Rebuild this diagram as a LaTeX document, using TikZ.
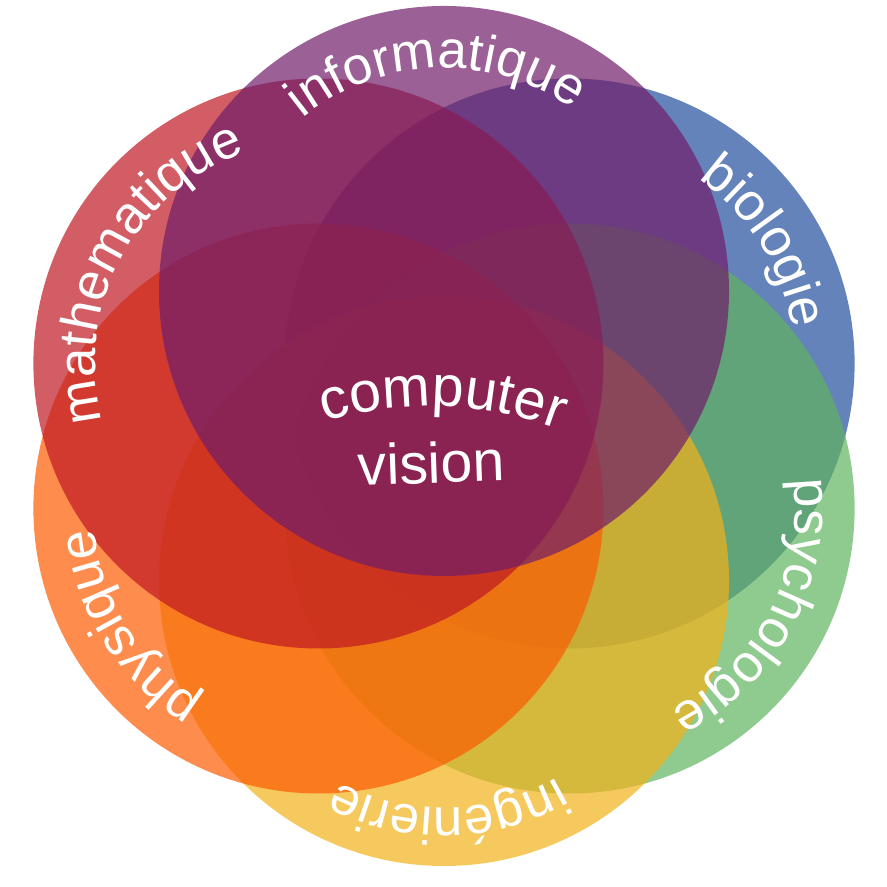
\documentclass[tikz,border=0pt]{standalone}
\usepackage{fontspec}
\setmainfont{Liberation Sans}
\usepackage{tikz}
\usetikzlibrary{decorations.text}

\definecolor{infcolor}{HTML}{701D69}
\definecolor{biocolor}{HTML}{224E9C}
\definecolor{psycolor}{HTML}{5FB35E}
\definecolor{ingcolor}{HTML}{F2B21A}
\definecolor{phycolor}{HTML}{FC5B02}
\definecolor{matcolor}{HTML}{C01824}

\newcommand{\venntext}{\fontsize{15pt}{18pt}\selectfont}
\newcommand{\cvtext}{\fontsize{16.3pt}{19pt}\selectfont}

\begin{document}
\begin{tikzpicture}[
        circle_style/.style={circle, minimum size=5.7cm, inner sep=0pt, draw=none, fill opacity=0.7},
        label_style/.style={decorate, decoration={text along path, text align=center, text color=white}}]

    \useasboundingbox (0,0) rectangle (8.87,8.87);

    % circles, bottom one first
    \node [circle_style, fill=biocolor] (bio) at (5.696,5.235) {};
    \node [circle_style, fill=psycolor] (psy) at (5.696,3.785) {};
    \node [circle_style, fill=ingcolor] (ing) at (4.44,3.06) {};
    \node [circle_style, fill=phycolor] (phy) at (3.184,3.785) {};
    \node [circle_style, fill=matcolor] (mat) at (3.184,5.235) {};
    \node [circle_style, fill=infcolor] (inf) at (4.44,5.96) {};

    % labels along the circles
    \path [label_style, decoration={text={|\venntext|informatique}}] (inf.center) ++(172:2.23) arc [start angle=172, end angle=12, radius=2.23];
    \path [label_style, decoration={text={|\venntext|biologie}}] (bio.center) ++(112:2.25) arc [start angle=112, end angle=-48, radius=2.25];
    \path [label_style, decoration={text={|\venntext|psychologie}}] (psy.center) ++(52:2.25) arc [start angle=52, end angle=-108, radius=2.25];
    \path [label_style, decoration={text={|\venntext|ingénierie}}] (ing.center) ++(-9:2.27) arc [start angle=-9, end angle=-169, radius=2.27];
    \path [label_style, decoration={text={|\venntext|physique}}] (phy.center) ++(-68:2.25) arc [start angle=-68, end angle=-228, radius=2.25];
    \path [label_style, decoration={text={|\venntext|mathematique}}] (mat.center) ++(232:2.23) arc [start angle=232, end angle=72, radius=2.23];

    % centre text
    \coordinate (cv) at (4.30,1.21);
    \path [label_style, decoration={text={|\cvtext|computer}}] (cv) ++(128:3.6) arc [start angle=128, end angle=48, radius=3.6];
    \node [text=white, font=\cvtext, anchor=base, rotate=2, inner sep=0pt] (vision) at (4.32,4.04) {vision};

\end{tikzpicture}
\end{document}
